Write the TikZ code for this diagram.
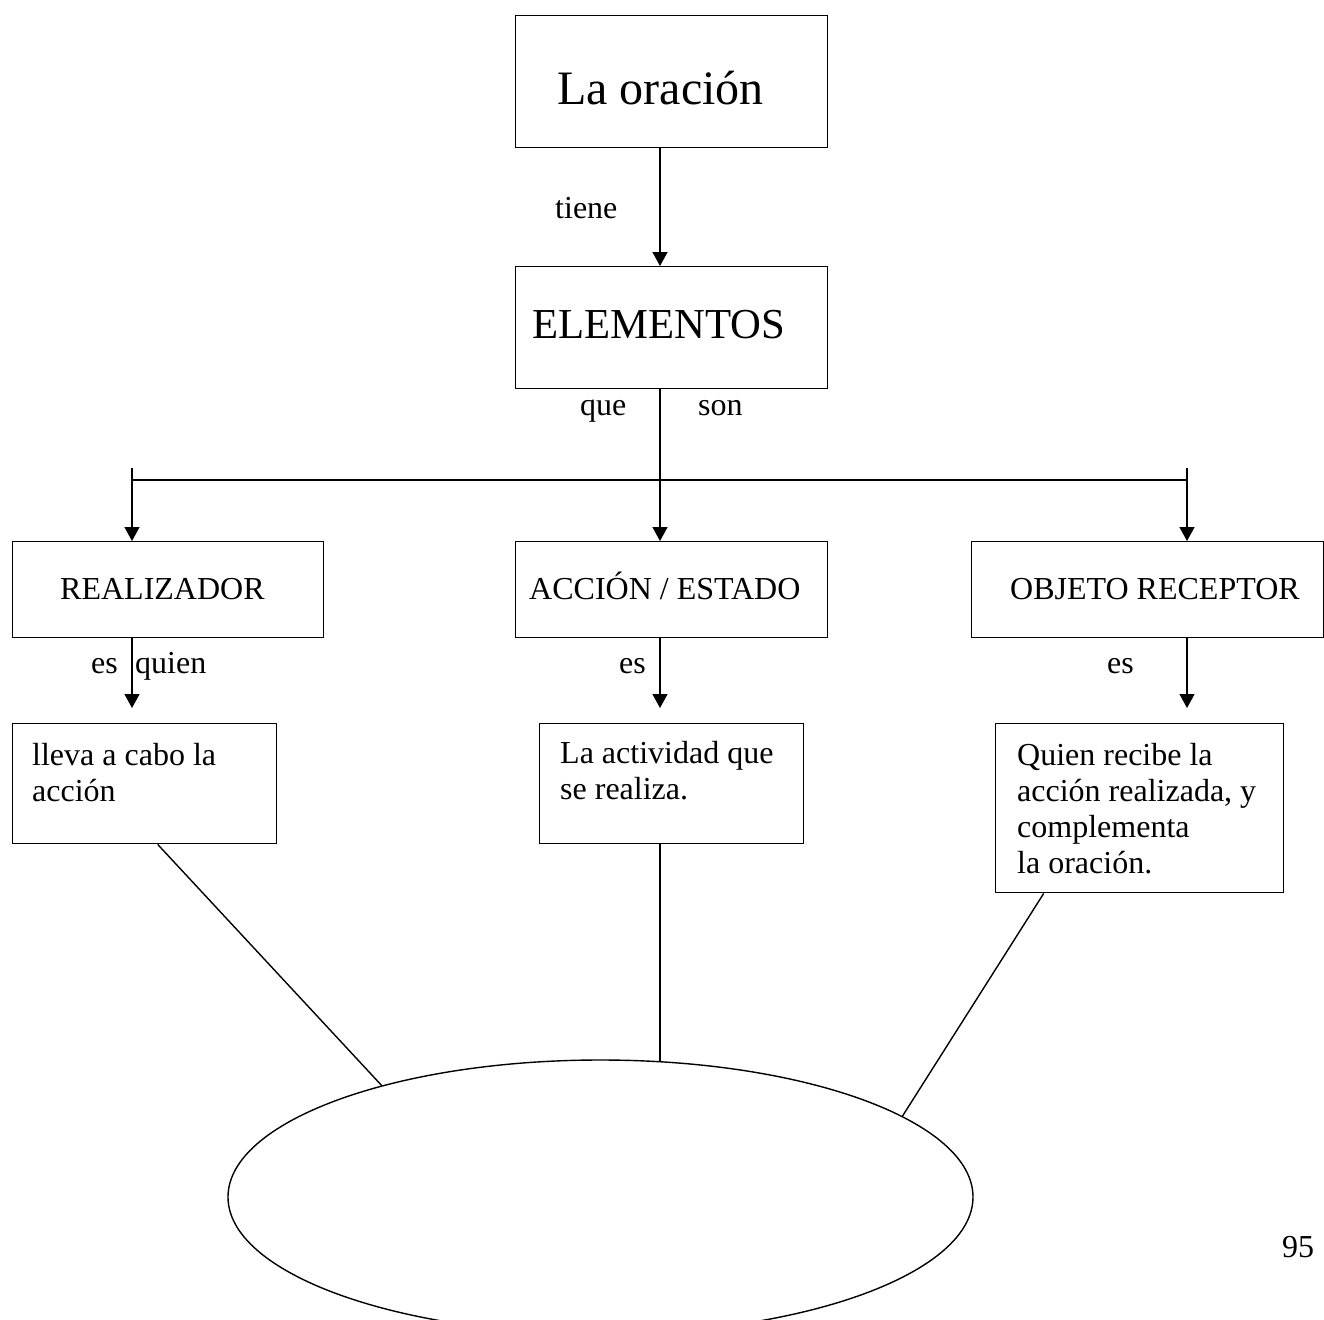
\documentclass[tikz,border=0pt]{standalone}
\usepackage{fontspec}
\setmainfont{Liberation Serif}
\usetikzlibrary{arrows.meta,shapes.geometric,calc}
\newcommand{\lines}[1]{\vtop{#1}}
\begin{document}
\begin{tikzpicture}[x=1pt,y=1pt,
  box/.style={draw,line width=1.4pt,inner sep=0pt,anchor=north west},
  txt/.style={inner sep=0pt,anchor=base west,font=\fontsize{32}{36}\selectfont},
  arr/.style={line width=1.4pt,-{Triangle[width=15pt,length=14pt]}},
  conn/.style={line width=1.4pt}]
\useasboundingbox (0,0) rectangle (1324,-1319);
\clip (0,0) rectangle (1324,-1319);
% column coordinates
\coordinate (cL) at (132,0);
\coordinate (cM) at (660,0);
\coordinate (cR) at (1187,0);
\coordinate (busL) at (132,-480);
\coordinate (busR) at (1187,-480);
% boxes
\node[box,minimum width=312,minimum height=132] (ora) at (515,-15) {};
\node[box,minimum width=312,minimum height=122] (elem) at (515,-266) {};
\node[box,minimum width=311,minimum height=96] (real) at (12,-541) {};
\node[box,minimum width=312,minimum height=96] (acc) at (515,-541) {};
\node[box,minimum width=352,minimum height=96] (obj) at (971,-541) {};
\node[box,minimum width=264,minimum height=120] (lleva) at (12,-723) {};
\node[box,minimum width=264,minimum height=120] (activ) at (539,-723) {};
\node[box,minimum width=288,minimum height=169] (quien) at (995,-723) {};
\node[draw,line width=1.4pt,ellipse,inner sep=0pt,minimum width=745,minimum height=274] (ell) at (600.5,-1197) {};
\coordinate (eM) at (660,-1061.5);
% texts
\node[txt,font=\fontsize{48}{54}\selectfont] (tora) at (557,-105) {La oración};
\node[txt,font=\fontsize{42.7}{48}\selectfont] (telem) at (532,-338) {ELEMENTOS};
\node[txt] (treal) at (60,-599) {REALIZADOR};
\node[txt] (tacc) at (529,-599) {ACCIÓN / ESTADO};
\node[txt] (tobj) at (1010,-599) {OBJETO RECEPTOR};
\node[txt] (tlleva) at (32,-765) {\lines{\hbox{lleva a cabo la}\hbox{acción}}};
\node[txt] (tactiv) at (560,-763) {\lines{\hbox{La actividad que}\hbox{se realiza.}}};
\node[txt] (tquien) at (1017,-765) {\lines{\hbox{Quien recibe la}\hbox{acción realizada, y}\hbox{complementa}\hbox{la oración.}}};
% connector labels
\node[txt] (ltiene) at (555,-218) {tiene};
\node[txt] (lque) at (580,-415) {que};
\node[txt] (lson) at (698,-415) {son};
\node[txt] (les1) at (91,-673) {es};
\node[txt] (lquien) at (135,-673) {quien};
\node[txt] (les2) at (619,-673) {es};
\node[txt] (les3) at (1107,-673) {es};
\node[txt] (page) at (1282,-1257) {95};
% connectors
\draw[arr] (ora.south -| cM) -- (elem.north -| cM);
\draw[arr] (elem.south -| cM) -- (acc.north -| cM);
\draw[conn] (busL) -- (busR);
\draw[arr] ($(busL)+(0,12)$) -- (real.north -| cL);
\draw[arr] ($(busR)+(0,12)$) -- (obj.north -| cR);
\draw[arr] (real.south -| cL) -- ($(lleva.north -| cL)+(0,15)$);
\draw[arr] (acc.south -| cM) -- ($(activ.north -| cM)+(0,15)$);
\draw[arr] (obj.south -| cR) -- ($(quien.north -| cR)+(0,15)$);
\draw[conn] ([xshift=13pt]lleva.south) -- (ell.153.9);
\draw[conn] (activ.south -| cM) -- (eM);
\draw[conn] ([xshift=-96pt]quien.south) -- (ell.15.6);
\end{tikzpicture}
\end{document}
